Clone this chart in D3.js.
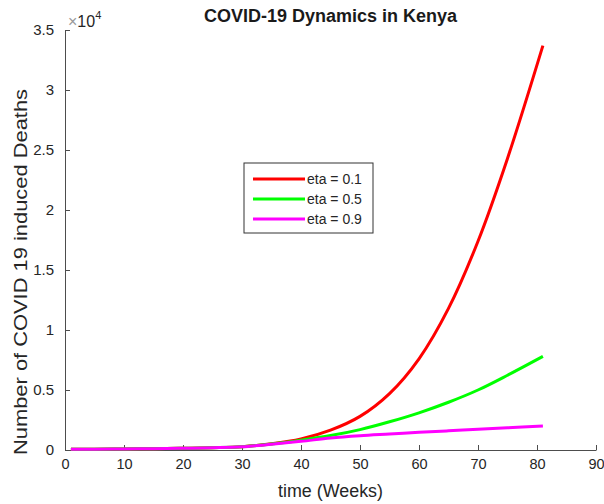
<!DOCTYPE html>
<html>
<head>
<meta charset="utf-8">
<script src="https://cdn.jsdelivr.net/npm/d3@7"></script>
<style>
  html, body { margin: 0; padding: 0; background: #fff; }
  svg { display: block; font-family: "Liberation Sans", Arial, sans-serif; }
</style>
</head>
<body>
<svg id="chart" width="604" height="504"></svg>
<script>
// Simulated COVID-19 induced deaths in Kenya for three values of eta
const weeks = [1, 5, 10, 15, 20, 25, 30, 35, 40, 45, 50, 55, 60, 65, 70, 75, 81];
const deathsEta01 = [60, 70, 90, 110, 140, 190, 280, 520, 920, 1650, 2800, 4700, 7600, 11800, 17400, 24300, 33700];
const deathsEta05 = [60, 70, 90, 110, 140, 190, 270, 500, 820, 1200, 1700, 2350, 3100, 3980, 5000, 6230, 7800];
const deathsEta09 = [60, 70, 90, 110, 140, 190, 270, 480, 720, 1000, 1190, 1330, 1470, 1600, 1730, 1850, 1990];
const seriesLabels = ["eta = 0.1", "eta = 0.5", "eta = 0.9"];
const seriesColors = ["#ff0000", "#00ff00", "#ff00ff"];
const xTicks = [0, 10, 20, 30, 40, 50, 60, 70, 80, 90];
const yTicks = [0, 5000, 10000, 15000, 20000, 25000, 30000, 35000];

const series = [deathsEta01, deathsEta05, deathsEta09].map((vals, i) => ({
  label: seriesLabels[i],
  color: seriesColors[i],
  points: weeks.map((w, j) => [w, vals[j]])
}));

const svg = d3.select("#chart");
const margin = { left: 65, right: 8, top: 30, bottom: 54 };
const W = 604, H = 504;

const x = d3.scaleLinear().domain([0, 90]).range([margin.left, W - margin.right]);
const y = d3.scaleLinear().domain([0, 35000]).range([H - margin.bottom, margin.top]);

const axisColor = "#4d4d4d";
const textColor = "#262626";

// x axis (ticks pointing inward)
const gx = svg.append("g")
  .attr("transform", `translate(0,${y(0)})`)
  .call(d3.axisBottom(x).tickValues(xTicks).tickSizeInner(-5).tickSizeOuter(0).tickPadding(9));
gx.select(".domain").attr("stroke", axisColor);
gx.selectAll(".tick line").attr("stroke", axisColor);
gx.selectAll(".tick text").attr("fill", textColor).attr("font-size", 14.5);

// y axis
const gy = svg.append("g")
  .attr("transform", `translate(${x(0)},0)`)
  .call(d3.axisLeft(y).tickValues(yTicks).tickFormat(d => d3.format("~g")(d / 1e4))
    .tickSizeInner(-5).tickSizeOuter(0).tickPadding(11));
gy.select(".domain").attr("stroke", axisColor);
gy.selectAll(".tick line").attr("stroke", axisColor);
gy.selectAll(".tick text").attr("fill", textColor).attr("font-size", 15);

// exponent marker
const expo = svg.append("text")
  .attr("x", x(0) + 3).attr("y", 27)
  .attr("fill", textColor).attr("font-size", 16);
expo.append("tspan").attr("fill", "#999").text("\u00d7");
expo.append("tspan").text("10");
expo.append("tspan").attr("font-size", 11).attr("dy", -8).text("4");

// curves
const line = d3.line().x(d => x(d[0])).y(d => y(d[1])).curve(d3.curveCatmullRom.alpha(0.5));
svg.append("g").selectAll("path").data(series).join("path")
  .attr("d", d => line(d.points))
  .attr("fill", "none")
  .attr("stroke", d => d.color)
  .attr("stroke-width", 3)
  .attr("stroke-linejoin", "round");

// title
svg.append("text")
  .attr("x", 330.5).attr("y", 22)
  .attr("text-anchor", "middle")
  .attr("font-size", 18).attr("font-weight", "bold")
  .attr("fill", "#1a1a1a")
  .text("COVID-19 Dynamics in Kenya");

// axis labels
svg.append("text")
  .attr("x", 330.5).attr("y", 497)
  .attr("text-anchor", "middle")
  .attr("font-size", 18).attr("fill", textColor)
  .attr("textLength", 105).attr("lengthAdjust", "spacingAndGlyphs")
  .text("time (Weeks)");

svg.append("text")
  .attr("transform", "translate(27,272) rotate(-90)")
  .attr("text-anchor", "middle")
  .attr("font-size", 18).attr("fill", textColor)
  .attr("textLength", 366).attr("lengthAdjust", "spacingAndGlyphs")
  .text("Number of COVID 19 induced Deaths");

// legend
const legend = svg.append("g").attr("transform", "translate(244,163)");
legend.append("rect")
  .attr("width", 129).attr("height", 70)
  .attr("fill", "#fff").attr("stroke", "#333").attr("stroke-width", 1);
const rows = legend.selectAll("g.row").data(series).join("g")
  .attr("class", "row")
  .attr("transform", (d, i) => `translate(0,${16 + i * 20})`);
rows.append("line")
  .attr("x1", 9).attr("x2", 61)
  .attr("stroke", d => d.color).attr("stroke-width", 3);
rows.append("text")
  .attr("x", 63).attr("y", 5)
  .attr("font-size", 14).attr("fill", textColor)
  .text(d => d.label);
</script>
</body>
</html>
